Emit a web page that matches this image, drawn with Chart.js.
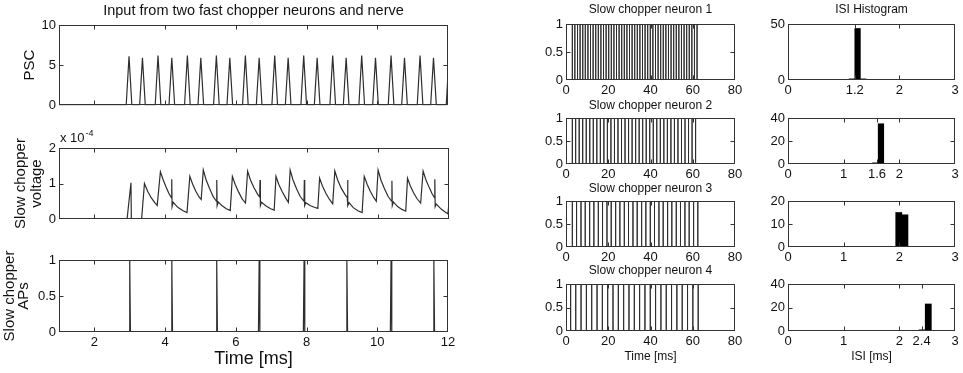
<!DOCTYPE html>
<html>
<head>
<meta charset="utf-8">
<script src="https://cdn.jsdelivr.net/npm/chart.js@4.4.0/dist/chart.umd.min.js"></script>
<style>
  html, body { margin: 0; padding: 0; background: #fff; }
  #fig { position: relative; width: 963px; height: 373px; overflow: hidden; background: #fff; }
  #fig canvas { position: absolute; }
</style>
</head>
<body>
<div id="fig"></div>
<script>
// --- left column: input PSC, slow chopper voltage, slow chopper APs (time in ms) ---
const LEFT_X_TICKS = [2, 4, 6, 8, 10, 12];
const PSC_PEAK_T = [2.98, 3.36, 3.80, 4.19, 4.63, 5.01, 5.45, 5.83, 6.27, 6.66, 7.10, 7.48,
                    7.92, 8.30, 8.74, 9.12, 9.56, 9.95, 10.39, 10.77, 11.21, 11.59, 12.03];
const PSC_PEAK_V = [6.1, 5.9, 6.2, 5.9, 6.2, 5.9, 6.2, 5.9, 6.2, 5.9, 6.2, 5.9,
                    6.2, 5.9, 6.2, 5.9, 6.2, 5.9, 6.2, 5.9, 6.2, 5.9, 6.2];
const PSC_TICKS = [0, 5, 10];

// voltage in units of 1e-4: [time, value]
const VOLTAGE = [
  [1, 0], [2.92, 0], [3.03, 1.02], [3.04, 0], [3.33, 0], [3.41, 1.0], [3.5, 0.78], [3.6, 0.6], [3.7, 0.46], [3.77, 0.38],
  [3.86, 1.33], [3.94, 1.1], [4.02, 0.9], [4.1, 0.72], [4.17, 0.6], [4.18, 1.12], [4.19, 0.35], [4.22, 0.47],
  [4.35, 0.33], [4.5, 0.23], [4.61, 0.18], [4.69, 1.2], [4.77, 0.98], [4.86, 0.78], [4.95, 0.62], [5.01, 0.55],
  [5.07, 1.38], [5.15, 1.1], [5.25, 0.85], [5.35, 0.63], [5.44, 0.5], [5.45, 1.1], [5.46, 0.38], [5.49, 0.48],
  [5.6, 0.37], [5.72, 0.29], [5.83, 0.24], [5.89, 1.2], [5.97, 0.97], [6.07, 0.75], [6.17, 0.56], [6.26, 0.45],
  [6.32, 1.35], [6.4, 1.1], [6.5, 0.88], [6.6, 0.7], [6.66, 0.62], [6.67, 1.1], [6.68, 0.38], [6.71, 0.47],
  [6.85, 0.36], [6.97, 0.29], [7.07, 0.25], [7.12, 1.2], [7.2, 0.97], [7.3, 0.76], [7.4, 0.58], [7.47, 0.47],
  [7.52, 1.38], [7.6, 1.1], [7.7, 0.85], [7.8, 0.64], [7.91, 0.5], [7.92, 1.1], [7.93, 0.38], [7.96, 0.46],
  [8.08, 0.38], [8.2, 0.33], [8.3, 0.3], [8.35, 1.15], [8.43, 0.93], [8.53, 0.72], [8.63, 0.55], [8.72, 0.43],
  [8.78, 1.35], [8.86, 1.1], [8.96, 0.87], [9.06, 0.7], [9.13, 0.6], [9.14, 1.1], [9.15, 0.38], [9.18, 0.46],
  [9.3, 0.32], [9.43, 0.23], [9.55, 0.18], [9.61, 1.2], [9.69, 0.98], [9.78, 0.78], [9.88, 0.6], [9.95, 0.5],
  [10.0, 1.38], [10.08, 1.1], [10.18, 0.85], [10.28, 0.64], [10.38, 0.5], [10.39, 1.08], [10.4, 0.38], [10.43, 0.48],
  [10.55, 0.35], [10.67, 0.27], [10.78, 0.22], [10.83, 1.15], [10.91, 0.93], [11.0, 0.74], [11.1, 0.57], [11.2, 0.45],
  [11.27, 1.35], [11.35, 1.1], [11.45, 0.87], [11.52, 0.72], [11.59, 0.6], [11.6, 1.12], [11.61, 0.35], [11.64, 0.42],
  [11.78, 0.28], [11.9, 0.19], [11.97, 0.15], [12.0, 0.45]
];
const VOLT_TICKS = [0, 1, 2];

const AP_TIMES = [3.0, 4.19, 5.46, 6.66, 7.93, 9.14, 10.39, 11.6];
const AP_TICKS = [0, 0.5, 1];

// --- middle column: spike rasters of the four slow chopper neurons (ms) ---
const RASTER_X_TICKS = [0, 20, 40, 60, 80];
const RASTER_Y_TICKS = [0, 0.5, 1];
const NEURON1 = [3.0, 4.19, 5.46, 6.66, 7.93, 9.14, 10.39, 11.6, 12.84, 14.07, 15.3, 16.53, 17.76, 18.99, 20.22,
  21.45, 22.68, 23.91, 25.14, 26.37, 27.6, 28.83, 30.06, 31.29, 32.52, 33.75, 34.98, 36.21, 37.44, 38.67, 39.9,
  41.13, 42.36, 43.59, 44.82, 46.05, 47.28, 48.51, 49.74, 50.97, 52.2, 53.43, 54.66, 55.89, 57.12, 58.35, 59.58,
  60.81, 62.04];
const NEURON2 = [3.0, 4.57, 6.24, 7.91, 9.58, 11.25, 12.92, 14.59, 16.26, 17.93, 19.6, 21.27, 22.94, 24.61, 26.28,
  27.95, 29.62, 31.29, 32.96, 34.63, 36.3, 37.97, 39.64, 41.31, 42.98, 44.65, 46.32, 47.99, 49.66, 51.33, 53.0,
  54.67, 56.34, 58.01, 59.68, 61.35];
const NEURON3 = [3.0, 5.0, 7.1, 9.1, 11.2, 13.2, 15.3, 17.3, 19.4, 21.4, 23.5, 25.5, 27.6, 29.6, 31.7, 33.7, 35.8,
  37.8, 39.9, 41.9, 44.0, 46.0, 48.1, 50.1, 52.2, 54.2, 56.3, 58.3, 60.4, 62.4];
const NEURON4 = [2.2, 4.61, 7.13, 9.65, 12.17, 14.69, 17.21, 19.73, 22.25, 24.77, 27.29, 29.81, 32.33, 34.85, 37.37,
  39.89, 42.41, 44.93, 47.45, 49.97, 52.49, 55.01, 57.53, 60.05, 62.57];

// --- right column: ISI histograms (bin centre in ms, count) ---
const HIST1_X = [1.15, 1.25, 1.35];
const HIST1_Y = [1, 46, 1];
const HIST2_X = [1.57, 1.67];
const HIST2_Y = [1, 35];
const HIST3_X = [1.99, 2.1];
const HIST3_Y = [15, 14];
const HIST4_X = [2.41, 2.52];
const HIST4_Y = [1, 23];
const HIST1_X_TICKS = [0, 1.2, 2, 3];
const HIST2_X_TICKS = [0, 1, 1.6, 2, 3];
const HIST3_X_TICKS = [0, 1, 2, 3];
const HIST4_X_TICKS = [0, 1, 2, 2.4, 3];
const HIST1_Y_TICKS = [0, 50];
const HIST2_Y_TICKS = [0, 20, 40];
const HIST3_Y_TICKS = [0, 10, 20];
const HIST4_Y_TICKS = [0, 20, 40];

const FONT = '"Liberation Sans", Arial, Helvetica, sans-serif';
const INK = '#111';
Chart.defaults.font.family = FONT;
Chart.defaults.color = INK;

// matlab style box with inward tick marks on all four sides
const boxPlugin = {
    id: 'matlabBox',
    afterDatasetsDraw(chart) {
        const { ctx, chartArea: a } = chart;
        const l = Math.round(a.left) + 0.5, r = Math.round(a.right) - 0.5;
        const t = Math.round(a.top) + 0.5, b = Math.round(a.bottom) - 0.5;
        const xs = chart.scales.x, ys = chart.scales.y;
        ctx.save();
        ctx.strokeStyle = '#333';
        ctx.lineWidth = 1;
        ctx.strokeRect(l, t, r - l, b - t);
        ctx.beginPath();
        xs.ticks.forEach(tk => {
            const p = Math.round(xs.getPixelForValue(tk.value)) + 0.5;
            if (p <= l + 1 || p >= r - 1) return;
            ctx.moveTo(p, b); ctx.lineTo(p, b - 4);
            ctx.moveTo(p, t); ctx.lineTo(p, t + 4);
        });
        ys.ticks.forEach(tk => {
            const p = Math.round(ys.getPixelForValue(tk.value)) + 0.5;
            if (p <= t + 1 || p >= b - 1) return;
            ctx.moveTo(l, p); ctx.lineTo(l + 4, p);
            ctx.moveTo(r, p); ctx.lineTo(r - 4, p);
        });
        ctx.stroke();
        ctx.restore();
    }
};

// "x 10^-4" multiplier above the voltage axis
const exponentPlugin = {
    id: 'exponent',
    afterDraw(chart) {
        const { ctx, chartArea: a } = chart;
        ctx.save();
        ctx.fillStyle = INK;
        ctx.textBaseline = 'alphabetic';
        ctx.font = '13px ' + FONT;
        ctx.fillText('x 10', a.left + 1, a.top - 6);
        const w = ctx.measureText('x 10').width;
        ctx.font = '9px ' + FONT;
        ctx.fillText('-4', a.left + 2 + w, a.top - 12);
        ctx.restore();
    }
};

function pulsePoints(times, heights, halfWidth, xStart, xEnd) {
    const pts = [{ x: xStart, y: 0 }];
    times.forEach((t, i) => {
        pts.push({ x: t - halfWidth, y: 0 }, { x: t, y: heights[i] }, { x: t + halfWidth, y: 0 });
    });
    pts.push({ x: xEnd, y: 0 });
    return pts;
}

function rasterPoints(times) {
    const pts = [{ x: 0, y: 0 }];
    times.forEach(t => pts.push({ x: t, y: 0 }, { x: t, y: 1 }, { x: t, y: 0 }));
    return pts;
}

function lineSet(points, width) {
    return { data: points, borderColor: '#2e2e2e', borderWidth: width, pointRadius: 0, tension: 0, fill: false };
}

function barSet(xs, ys) {
    return {
        data: xs.map((x, i) => ({ x, y: ys[i] })),
        backgroundColor: '#000', borderWidth: 0,
        barPercentage: 1, categoryPercentage: 1
    };
}

// g: canvas box and margins round the plot area; o: axes and text
function addChart(g, type, datasets, o) {
    const c = document.createElement('canvas');
    c.width = g.w; c.height = g.h;
    c.style.left = g.x + 'px'; c.style.top = g.y + 'px';
    document.getElementById('fig').appendChild(c);

    const axis = (min, max, ticks, size, showLabels, title, isX) => ({
        type: 'linear', min, max, offset: false,
        afterBuildTicks: s => { s.ticks = ticks.map(v => ({ value: v })); },
        afterFit: s => { if (isX) s.height = size; else s.width = size; },
        grid: { display: false, drawTicks: false, offset: false },
        border: { display: false },
        ticks: {
            display: showLabels, padding: 3, autoSkip: false, maxRotation: 0,
            color: INK, font: { size: 13 }, callback: v => String(v)
        },
        title: title || { display: false }
    });

    return new Chart(c, {
        type,
        data: { datasets },
        options: {
            responsive: false,
            animation: false,
            events: [],
            layout: { padding: { left: 0, right: g.r, top: o.title ? 0 : g.t, bottom: 0 } },
            plugins: {
                legend: { display: false },
                tooltip: { enabled: false },
                title: o.title ? {
                    display: true, text: o.title, color: INK, fullSize: false,
                    font: { size: o.titleSize, weight: 'normal', lineHeight: '14px' },
                    padding: o.titlePad
                } : { display: false }
            },
            scales: {
                x: axis(o.xMin, o.xMax, o.xTicks, g.b, o.xLabels, o.xTitle, true),
                y: axis(o.yMin, o.yMax, o.yTicks, g.l, true, o.yTitle, false)
            }
        },
        plugins: [boxPlugin].concat(o.extra || [])
    });
}

// ---- left column ----
addChart({ x: 0, y: 0, w: 470, h: 116, l: 59, r: 22, t: 25, b: 10 }, 'line',
    [lineSet(pulsePoints(PSC_PEAK_T, PSC_PEAK_V, 0.08, 1, 12.2), 1.2)],
    {
        xMin: 1, xMax: 12, xTicks: LEFT_X_TICKS, xLabels: false,
        yMin: 0, yMax: 10, yTicks: PSC_TICKS,
        title: 'Input from two fast chopper neurons and nerve', titleSize: 14.5, titlePad: { top: 4, bottom: 7 },
        yTitle: { display: true, text: 'PSC', color: INK, font: { size: 15, lineHeight: '17px' }, padding: { top: 21, bottom: 0 } }
    });

addChart({ x: 0, y: 120, w: 470, h: 110, l: 59, r: 21, t: 28, b: 11 }, 'line',
    [lineSet(VOLTAGE.map(p => ({ x: p[0], y: p[1] })), 1.2)],
    {
        xMin: 1, xMax: 12, xTicks: LEFT_X_TICKS, xLabels: false,
        yMin: 0, yMax: 2, yTicks: VOLT_TICKS,
        yTitle: { display: true, text: ['Slow chopper', 'voltage'], color: INK, font: { size: 15, lineHeight: '16px' }, padding: { top: 13, bottom: 0 } },
        extra: [exponentPlugin]
    });

addChart({ x: 0, y: 245, w: 470, h: 128, l: 59, r: 22, t: 15, b: 41 }, 'line',
    [lineSet(pulsePoints(AP_TIMES, AP_TIMES.map(() => 1), 0.02, 1, 12), 1.2)],
    {
        xMin: 1, xMax: 12, xTicks: LEFT_X_TICKS, xLabels: true,
        yMin: 0, yMax: 1, yTicks: AP_TICKS,
        xTitle: { display: true, text: 'Time [ms]', color: INK, font: { size: 18, lineHeight: '20px' }, padding: { top: 0, bottom: 4 } },
        yTitle: { display: true, text: ['Slow chopper', 'APs'], color: INK, font: { size: 15, lineHeight: '14px' }, padding: { top: 3, bottom: 0 } }
    });

// ---- middle and right columns ----
const ROWS = [
    { y: 0, h: 100, b: 20, pad: { top: 3, bottom: 7 } },
    { y: 94, h: 90, b: 20, pad: { top: 5, bottom: 5 } },
    { y: 177, h: 90, b: 20, pad: { top: 5, bottom: 5 } },
    { y: 260, h: 113, b: 42, pad: { top: 4, bottom: 6 } }
];
const NEURONS = [NEURON1, NEURON2, NEURON3, NEURON4];
const HISTS = [
    [HIST1_X, HIST1_Y, HIST1_X_TICKS, HIST1_Y_TICKS],
    [HIST2_X, HIST2_Y, HIST2_X_TICKS, HIST2_Y_TICKS],
    [HIST3_X, HIST3_Y, HIST3_X_TICKS, HIST3_Y_TICKS],
    [HIST4_X, HIST4_Y, HIST4_X_TICKS, HIST4_Y_TICKS]
];

ROWS.forEach((row, i) => {
    const last = i === ROWS.length - 1;
    const bottomTitle = text => last
        ? { display: true, text, color: INK, font: { size: 12, lineHeight: '14px' }, padding: { top: 0, bottom: 9 } }
        : null;

    addChart({ x: 540, y: row.y, w: 210, h: row.h, l: 26, r: 15, t: 24, b: row.b }, 'line',
        [lineSet(rasterPoints(NEURONS[i]), 1)],
        {
            xMin: 0, xMax: 80, xTicks: RASTER_X_TICKS, xLabels: true,
            yMin: 0, yMax: 1, yTicks: RASTER_Y_TICKS,
            title: 'Slow chopper neuron ' + (i + 1), titleSize: 12, titlePad: row.pad,
            xTitle: bottomTitle('Time [ms]')
        });

    const [hx, hy, hxt, hyt] = HISTS[i];
    addChart({ x: 760, y: row.y, w: 203, h: row.h, l: 28, r: 8, t: 24, b: row.b }, 'bar',
        [barSet(hx, hy)],
        {
            xMin: 0, xMax: 3, xTicks: hxt, xLabels: true,
            yMin: 0, yMax: hyt[hyt.length - 1], yTicks: hyt,
            title: i === 0 ? 'ISI Histogram' : null, titleSize: 12, titlePad: row.pad,
            xTitle: bottomTitle('ISI [ms]')
        });
});
</script>
</body>
</html>
